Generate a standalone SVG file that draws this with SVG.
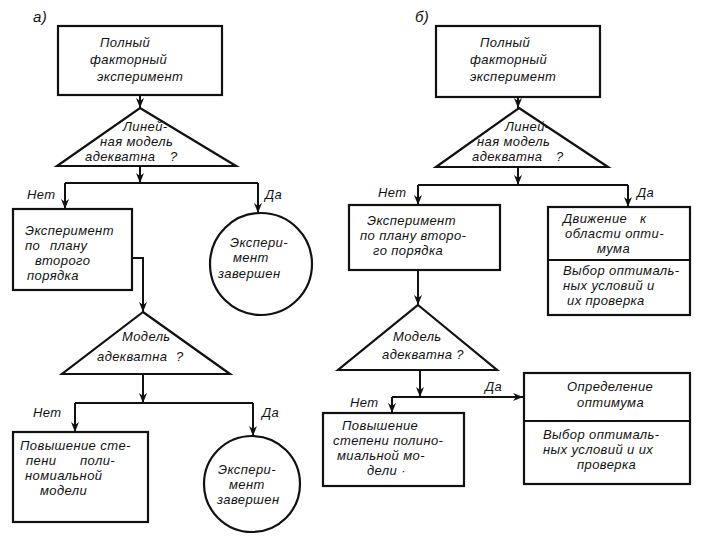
<svg xmlns="http://www.w3.org/2000/svg" width="720" height="540" viewBox="0 0 720 540">
<defs>
<marker id="arr" viewBox="0 0 10 8" refX="10" refY="4" markerWidth="10" markerHeight="8" markerUnits="userSpaceOnUse" orient="auto">
<path d="M0,0 L10,4 L0,8 L3,4 Z" fill="#111"/>
</marker>
<style>
.s{fill:#fff;stroke:#111;stroke-width:2.2}
.c{fill:none;stroke:#111;stroke-width:2}
.ca{fill:none;stroke:#111;stroke-width:2;marker-end:url(#arr)}
text{font-family:"Liberation Sans","DejaVu Sans",sans-serif;font-style:italic;font-size:13px;letter-spacing:0.4px;fill:#111}
.lb{font-size:15px}
</style>
</defs>
<rect width="720" height="540" fill="#fff"/>
<text class="lb" x="33" y="22">а)</text>
<text class="lb" x="415" y="22">б)</text>

<g id="connectors">
<path class="ca" d="M140,95 V108"/>
<path class="ca" d="M140,166 V183"/>
<path class="c" d="M65,183 H258"/>
<path class="ca" d="M65,183 V209"/>
<path class="ca" d="M258,183 V213"/>
<path class="ca" d="M132,258 H143 V312"/>
<path class="ca" d="M143,374 V403"/>
<path class="c" d="M75,403 H253"/>
<path class="ca" d="M75,403 V432"/>
<path class="ca" d="M253,403 V436"/>
<path class="ca" d="M518,97 V108"/>
<path class="ca" d="M518,167 V185"/>
<path class="c" d="M418,185 H628"/>
<path class="ca" d="M418,185 V205"/>
<path class="ca" d="M628,185 V207"/>
<path class="ca" d="M418,270 V305"/>
<path class="ca" d="M420,370 V397"/>
<path class="ca" d="M392,397 H523"/>
<path class="ca" d="M392,397 V413"/>
<text x="27" y="199">Нет</text>
<text x="265" y="199">Да</text>
<text x="33" y="417">Нет</text>
<text x="262" y="417">Да</text>
<text x="378" y="197">Нет</text>
<text x="637" y="197">Да</text>
<text x="350" y="407">Нет</text>
<text x="485" y="391">Да</text>
</g>

<g id="a_pfe">
<rect class="s" x="58" y="26" width="164" height="69"/>
<text x="100" y="47">Полный</text>
<text x="90" y="64">факторный</text>
<text x="97" y="81">эксперимент</text>
</g>
<g id="a_lin">
<path class="s" d="M140,108 L236,166 L57,166 Z"/>
<text x="123" y="131">Линей-</text>
<text x="100" y="146">ная модель</text>
<text x="85" y="161">адекватна <tspan x="170">?</tspan></text>
</g>
<g id="a_second">
<rect class="s" x="13" y="209" width="119" height="81"/>
<text x="25" y="235">Эксперимент</text>
<text x="25" y="250">по <tspan x="50">плану</tspan></text>
<text x="35" y="265">второго</text>
<text x="27" y="280">порядка</text>
</g>
<g id="a_done1">
<circle class="s" cx="261" cy="264" r="51"/>
<text x="230" y="247">Экспери-</text>
<text x="233" y="262">мент</text>
<text x="218" y="278">завершен</text>
</g>
<g id="a_model">
<path class="s" d="M143,312 L230,374 L62,374 Z"/>
<text x="122" y="341">Модель</text>
<text x="97" y="361">адекватна <tspan x="176">?</tspan></text>
</g>
<g id="a_poly">
<rect class="s" x="13" y="432" width="135" height="90"/>
<text x="20" y="450">Повышение сте-</text>
<text x="26" y="465">пени <tspan x="80">поли-</tspan></text>
<text x="25" y="480">номиальной</text>
<text x="40" y="495">модели</text>
</g>
<g id="a_done2">
<circle class="s" cx="252" cy="484" r="48"/>
<text x="218" y="474">Экспери-</text>
<text x="229" y="489">мент</text>
<text x="217" y="504">завершен</text>
</g>

<g id="b_pfe">
<rect class="s" x="436" y="26" width="164" height="71"/>
<text x="480" y="47">Полный</text>
<text x="470" y="64">факторный</text>
<text x="470" y="81">эксперимент</text>
</g>
<g id="b_lin">
<path class="s" d="M519,108 L608,167 L436,167 Z"/>
<text x="505" y="131">Линей-</text>
<text x="477" y="146">ная модель</text>
<text x="472" y="161">адекватна <tspan x="556">?</tspan></text>
</g>
<g id="b_second">
<rect class="s" x="349" y="205" width="151" height="65"/>
<text x="367" y="225">Эксперимент</text>
<text x="360" y="240">по плану второ-</text>
<text x="373" y="255">го порядка</text>
</g>
<g id="b_move">
<rect class="s" x="548" y="207" width="142" height="108"/>
<path class="c" d="M548,260 H690"/>
<text x="563" y="223">Движение <tspan x="640">к</tspan></text>
<text x="565" y="238">области опти-</text>
<text x="597" y="253">мума</text>
<text x="563" y="275">Выбор оптималь-</text>
<text x="563" y="290">ных условий и</text>
<text x="567" y="305">их проверка</text>
</g>
<g id="b_model">
<path class="s" d="M418,305 L497,370 L338,370 Z"/>
<text x="393" y="341">Модель</text>
<text x="382" y="359">адекватна ?</text>
</g>
<g id="b_poly">
<rect class="s" x="323" y="413" width="141" height="73"/>
<text x="342" y="430">Повышение</text>
<text x="333" y="445">степени полино-</text>
<text x="337" y="460">миальной мо-</text>
<text x="367" y="475">дели ·</text>
</g>
<g id="b_opt">
<rect class="s" x="524" y="373" width="166" height="111"/>
<path class="c" d="M524,421 H690"/>
<text x="567" y="391">Определение</text>
<text x="577" y="407">оптимума</text>
<text x="543" y="439">Выбор  оптималь-</text>
<text x="543" y="454">ных  условий и их</text>
<text x="577" y="469">проверка</text>
</g>
</svg>
